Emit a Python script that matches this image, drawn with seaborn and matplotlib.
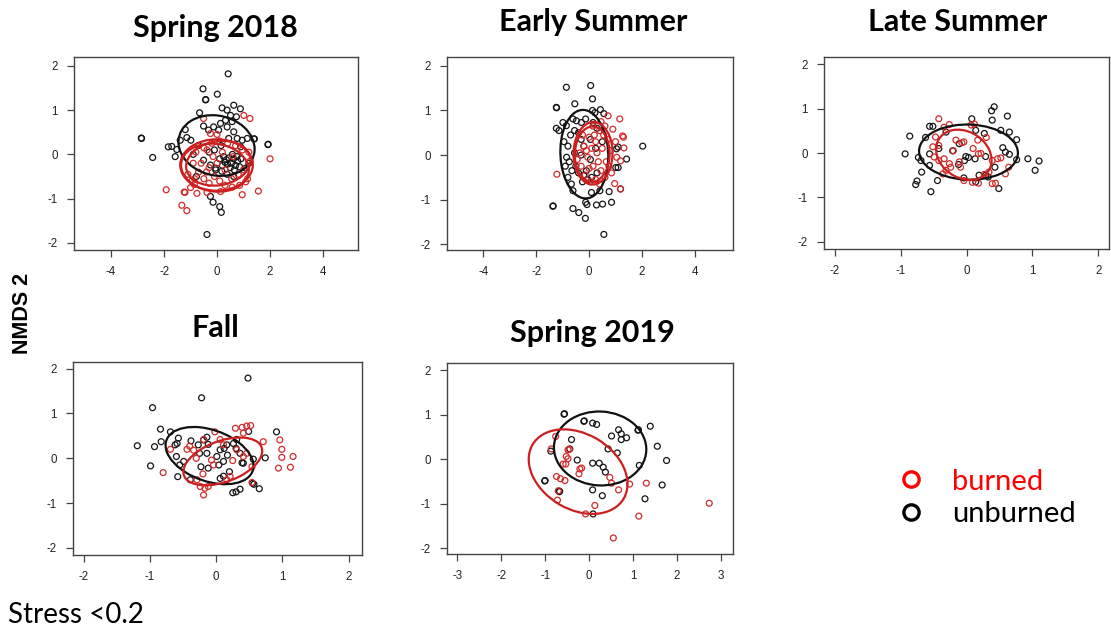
import numpy as np
import pandas as pd
import matplotlib
matplotlib.use("Agg")
import matplotlib.pyplot as plt
from matplotlib.patches import Ellipse
from matplotlib.lines import Line2D
import seaborn as sns

sns.set_theme(style="white")
plt.rcParams["font.family"] = ["Lato", "DejaVu Sans"]

seasons = ["Spring 2018", "Early Summer", "Late Summer", "Fall", "Spring 2019"]
treatments = ["burned", "unburned"]
legend_labels = ["burned", "unburned"]
y_axis_label = "NMDS 2"
stress_note = "Stress <0.2"

# NMDS site scores (NMDS1, NMDS2)
spring18_burned = [
    (-1.92, -0.80), (-1.24, -0.85), (-1.21, -0.86), (-1.33, -1.15), (-1.14, -1.27),
    (-0.76, -0.88), (-0.86, -0.68), (-0.38, -0.86), (0.13, -0.84), (0.57, -0.74),
    (0.95, -0.91), (1.08, -0.62), (1.56, -0.83), (2.00, -0.10), (1.24, 0.81),
    (1.01, 0.88), (-0.51, 0.81), (-0.25, 0.47), (-0.38, 0.10), (-0.90, -0.20),
    (-1.10, -0.45), (-0.95, -0.60), (-0.70, -0.40), (-0.50, -0.55), (-0.30, -0.65),
    (-0.10, -0.50), (0.10, -0.60), (0.30, -0.70), (0.55, -0.55), (0.80, -0.45),
    (1.00, -0.35), (1.25, -0.15), (1.20, 0.05), (0.95, 0.10), (0.70, 0.20),
    (0.40, 0.25), (0.10, 0.30), (-0.20, 0.25), (-0.50, 0.15), (-0.80, 0.05),
    (-0.60, -0.20), (-0.30, -0.30), (0.00, -0.20), (0.30, -0.35), (0.60, -0.05),
    (0.20, 0.05), (-0.15, -0.05), (-0.85, -0.55), (-0.40, -0.40), (0.85, -0.70),
    (1.15, -0.55), (-1.00, -0.75), (0.00, 0.45),
]
spring18_unburned = [
    (0.42, 1.82), (-0.53, 1.48), (-0.43, 1.24), (-0.43, 1.23), (0.01, 1.36),
    (-2.85, 0.36), (-2.86, 0.37), (-2.43, -0.07), (1.92, 0.22), (1.93, 0.23),
    (1.39, 0.35), (1.41, 0.35), (-0.66, 0.94), (0.19, 1.05), (0.38, 1.00),
    (0.63, 1.11), (0.88, 1.03), (0.51, 0.88), (0.73, 0.85), (0.32, 0.77),
    (0.13, 0.70), (-0.38, -1.81), (0.16, -1.31), (0.10, -1.18), (-0.15, -1.08),
    (-0.25, -0.95), (-0.78, -0.50), (-1.84, 0.17), (-1.71, 0.18), (-1.58, -0.05),
    (-1.52, 0.11), (-1.39, 0.32), (-1.20, 0.56), (-1.14, 0.38), (-0.99, 0.32),
    (-0.51, 0.64), (-0.32, 0.55), (-0.13, 0.62), (0.06, 0.55), (0.38, 0.62),
    (0.57, 0.74), (0.63, 0.51), (0.44, 0.36), (0.76, 0.36), (0.95, 0.32),
    (1.14, 0.36), (0.89, 0.17), (0.25, -0.05), (0.35, -0.12), (0.45, -0.08),
    (0.55, -0.20), (0.62, -0.10), (0.70, -0.25), (0.78, -0.15), (0.85, -0.28),
    (0.50, -0.30), (0.40, -0.22), (0.30, -0.18), (0.65, -0.35), (0.75, -0.05),
    (0.90, -0.10), (0.58, 0.00), (0.20, -0.25), (0.10, -0.10), (-0.05, -0.35),
    (0.38, -0.45), (0.63, -0.50), (0.18, -0.38), (-0.06, -0.31), (-0.25, -0.24),
    (-0.51, -0.13), (1.08, -0.31), (1.20, -0.20), (0.15, 0.20), (-0.10, 0.10),
    (-0.30, 0.05), (-0.70, 0.20), (-0.90, 0.00),
]

early_summer_burned = [
    (-1.22, -0.43), (1.16, 0.81), (1.27, 0.43), (1.30, 0.40), (1.32, 0.16),
    (1.19, -0.13), (0.97, -0.64), (1.19, -0.76), (0.72, 0.88), (0.90, 0.58),
    (0.60, 0.65), (0.40, 0.55), (0.20, 0.45), (0.00, 0.40), (-0.20, 0.20),
    (-0.35, 0.05), (-0.30, -0.25), (-0.15, -0.45), (0.05, -0.60), (0.25, -0.55),
    (0.45, -0.35), (0.65, -0.15), (0.80, 0.10), (0.70, 0.35), (0.50, 0.15),
    (0.30, 0.05), (0.10, 0.15), (-0.05, -0.05), (0.15, -0.25), (0.35, -0.15),
    (0.55, 0.45), (0.25, 0.30), (-0.10, 0.10), (0.00, -0.30), (0.40, -0.65),
    (-0.45, -0.10), (0.85, -0.40), (1.00, 0.30), (0.60, -0.50), (-0.25, 0.45),
    (0.15, 0.65), (0.45, 0.75), (1.05, -0.05), (0.75, -0.25),
]
early_summer_unburned = [
    (-0.86, 1.52), (0.06, 1.56), (0.13, 1.26), (-1.24, 1.07), (-1.23, 1.06),
    (-0.54, 1.15), (0.13, 1.00), (0.22, 0.95), (0.43, 1.02), (0.56, 0.93),
    (-1.24, 0.60), (-1.14, 0.55), (-0.99, 0.73), (-0.86, 0.66), (-0.61, 0.81),
    (-0.48, 0.77), (-0.29, 0.73), (-0.13, 0.81), (0.15, 0.73), (2.03, 0.20),
    (1.42, -0.09), (1.04, 0.14), (1.10, 0.18), (-1.37, -1.15), (-1.36, -1.14),
    (-0.61, -1.20), (-0.39, -1.29), (-0.14, -1.42), (0.56, -1.78), (0.28, -1.12),
    (0.51, -1.10), (0.85, -1.06), (-0.13, -1.06), (-0.08, -1.11), (0.09, -0.84),
    (0.41, -0.80), (0.76, -0.82), (1.19, -0.76), (-0.61, -0.80), (-0.67, -0.65),
    (-0.80, -0.50), (1.01, -0.28), (1.10, -0.28), (-0.95, 0.30), (-0.80, 0.20),
    (-0.70, 0.45), (-0.55, 0.55), (-0.40, 0.50), (-0.30, 0.35), (-0.85, -0.05),
    (-0.75, -0.15), (-0.90, -0.25), (-0.65, -0.35), (-0.50, -0.25), (-0.40, -0.40),
    (-0.20, -0.45), (-0.05, -0.55), (0.10, -0.50), (-0.10, -0.35), (-0.30, 0.00),
    (-0.55, 0.05), (-0.20, 0.20), (0.05, 0.35), (-0.25, -0.60), (0.30, -0.40),
    (0.30, 0.60), (0.25, 0.15), (0.50, 0.30), (0.05, -0.10),
]

late_summer_burned = [
    (-0.42, 0.77), (-0.26, 0.64), (-0.34, 0.58), (-0.47, 0.36), (-0.42, 0.17),
    (-0.51, 0.14), (-0.49, -0.09), (-0.42, -0.17), (-0.34, -0.13), (-0.26, -0.24),
    (-0.24, -0.32), (-0.31, -0.39), (-0.36, -0.47), (-0.16, 0.29), (-0.07, 0.23),
    (-0.04, 0.25), (-0.11, -0.20), (-0.09, -0.32), (0.07, 0.63), (0.12, 0.65),
    (0.17, 0.29), (0.18, -0.02), (0.22, -0.01), (-0.04, -0.62), (0.09, -0.66),
    (0.18, -0.68), (0.27, -0.48), (0.34, -0.43), (0.39, -0.17), (0.39, -0.69),
    (0.44, -0.68), (0.47, -0.13), (0.52, -0.11), (0.64, -0.32), (0.59, -0.47),
    (0.10, 0.10), (-0.20, 0.05), (0.30, 0.35),
]
late_summer_unburned = [
    (-0.86, 0.38), (-0.93, -0.02), (-0.73, -0.10), (-0.69, -0.17), (-0.68, -0.43),
    (-0.77, -0.71), (-0.75, -0.63), (-0.54, -0.87), (-0.44, -0.62), (-0.56, 0.60),
    (-0.51, 0.60), (-0.62, 0.35), (-0.56, -0.02), (-0.56, -0.28), (-0.42, 0.10),
    (-0.31, 0.47), (-0.21, 0.05), (-0.11, 0.21), (-0.01, -0.08), (-0.03, -0.17),
    (0.03, -0.10), (0.08, 0.77), (0.14, 0.51), (0.13, -0.13), (0.27, 0.44),
    (0.29, -0.08), (0.19, -0.50), (0.29, -0.50), (0.33, -0.54), (0.38, 0.95),
    (0.42, 1.04), (0.39, 0.74), (0.52, 0.51), (0.62, 0.83), (0.65, 0.47),
    (0.55, 0.12), (0.59, 0.02), (0.65, -0.03), (0.76, 0.30), (0.76, -0.15),
    (0.93, -0.13), (1.10, -0.18), (1.04, -0.39), (0.49, -0.80), (-0.04, -0.56),
    (0.14, -0.65), (0.43, -0.32), (-0.12, -0.26),
]

fall_burned = [
    (-0.80, -0.32), (-0.69, 0.20), (-0.44, 0.20), (-0.40, 0.27), (-0.34, 0.18),
    (-0.29, -0.48), (-0.24, -0.63), (-0.19, -0.82), (-0.17, -0.67), (-0.12, -0.63),
    (-0.02, 0.59), (-0.19, 0.42), (0.06, 0.42), (0.11, 0.30), (-0.07, -0.04),
    (-0.04, -0.15), (0.29, 0.67), (0.39, 0.69), (0.46, 0.72), (0.52, 0.73),
    (0.41, 0.56), (0.31, 0.19), (0.41, 0.04), (0.46, 0.11), (0.54, -0.19),
    (0.16, -0.48), (0.21, -0.41), (0.71, 0.37), (0.96, 0.41), (0.99, 0.20),
    (0.99, 0.02), (0.94, -0.22), (1.16, 0.04), (1.12, -0.20), (0.54, -0.54),
    (-0.30, 0.00), (0.25, -0.05), (-0.20, -0.35),
]
fall_unburned = [
    (0.48, 1.79), (-0.22, 1.35), (-0.96, 1.13), (-1.19, 0.28), (-0.99, -0.17),
    (-0.93, 0.26), (-0.84, 0.65), (-0.83, 0.37), (-0.69, 0.59), (-0.59, 0.33),
    (-0.57, 0.45), (-0.62, 0.30), (-0.60, 0.04), (-0.58, -0.41), (-0.55, -0.15),
    (-0.49, -0.07), (-0.38, 0.39), (-0.27, 0.30), (-0.19, 0.41), (-0.14, 0.47),
    (-0.12, 0.31), (-0.25, 0.11), (-0.23, -0.19), (-0.14, 0.11), (-0.12, -0.22),
    (0.01, 0.04), (0.04, -0.15), (0.11, -0.07), (0.06, 0.19), (0.12, 0.22),
    (0.16, 0.30), (0.17, 0.07), (0.26, 0.33), (0.31, 0.42), (0.30, 0.22),
    (0.36, 0.11), (0.39, -0.10), (0.41, -0.11), (0.49, 0.60), (0.56, -0.02),
    (0.74, 0.01), (0.91, 0.59), (0.25, -0.77), (0.30, -0.75), (0.36, -0.69),
    (0.55, -0.56), (0.57, -0.58), (0.65, -0.68), (0.06, -0.45), (0.11, -0.40),
    (-0.39, -0.48), (0.20, -0.30),
]

spring19_burned = [
    (-0.76, 0.51), (-0.86, 0.23), (-0.48, 0.21), (-0.45, 0.22), (-0.52, 0.06),
    (-0.48, 0.01), (-0.59, -0.11), (-0.53, -0.11), (-0.55, -0.48), (-0.65, -0.44),
    (-0.74, -0.39), (-0.72, -0.92), (-0.70, -0.71), (-0.21, -0.22), (-0.17, -0.20),
    (-0.23, -0.33), (0.47, -0.41), (0.51, -0.54), (0.67, -0.69), (0.92, -0.56),
    (1.30, -0.54), (1.13, -1.28), (0.55, -1.77), (-0.08, -1.23), (0.13, -1.04),
    (2.73, -0.99),
]
spring19_unburned = [
    (-0.57, 1.01), (-0.56, 1.02), (-0.11, 0.86), (-0.12, 0.85), (0.08, 0.81),
    (0.17, 0.78), (0.51, 0.52), (0.67, 0.66), (0.73, 0.57), (0.73, 0.44),
    (0.85, 0.48), (1.11, 0.65), (1.12, 0.66), (1.39, 0.74), (1.55, 0.29),
    (1.76, -0.03), (1.66, -0.58), (1.27, -0.89), (1.14, -0.14), (0.64, 0.14),
    (0.43, 0.23), (0.08, -0.09), (0.23, -0.09), (0.32, -0.18), (0.37, -0.29),
    (-0.27, -0.02), (-0.40, 0.44), (-0.44, 0.23), (-0.87, 0.18), (-1.00, -0.48),
    (-1.01, -0.49), (-0.67, -0.72), (-0.68, -0.73), (0.08, -0.69), (0.30, -0.82),
    (0.09, -1.23),
]

# ordination ellipses: (centre x, centre y, semi-axis a, semi-axis b, angle deg)
spring18_ellipses_burned = [(-0.02, -0.24, 1.37, 0.58, 0), (0.05, -0.20, 1.22, 0.50, 4),
                            (-0.08, -0.30, 1.28, 0.54, -3)]
spring18_ellipses_unburned = [(-0.02, 0.20, 1.44, 0.68, -4)]
early_summer_ellipses_burned = [(0.15, 0.04, 0.70, 0.74, 100), (0.12, 0.02, 0.62, 0.66, 100)]
early_summer_ellipses_unburned = [(-0.18, 0.02, 1.00, 0.90, 106)]
late_summer_ellipses_burned = [(-0.04, -0.04, 0.58, 0.40, 108)]
late_summer_ellipses_unburned = [(0.03, 0.02, 0.75, 0.62, -5)]
fall_ellipses_burned = [(0.10, -0.07, 0.68, 0.42, 38)]
fall_ellipses_unburned = [(-0.10, 0.06, 0.76, 0.52, -42)]
spring19_ellipses_burned = [(-0.25, -0.28, 1.20, 0.85, -30)]
spring19_ellipses_unburned = [(0.25, 0.24, 1.05, 0.83, -3)]

# axis ranges and tick values per season
x_limits = [(-5.4, 5.32), (-5.38, 5.45), (-2.16, 2.16), (-2.16, 2.2), (-3.23, 3.27)]
y_limits = [(-2.16, 2.2), (-2.13, 2.2), (-2.16, 2.16), (-2.16, 2.15), (-2.13, 2.16)]
x_ticks = [[-4, -2, 0, 2, 4], [-4, -2, 0, 2, 4], [-2, -1, 0, 1, 2],
           [-2, -1, 0, 1, 2], [-3, -2, -1, 0, 1, 2, 3]]
y_ticks = [-2, -1, 0, 1, 2]

burned_points = [spring18_burned, early_summer_burned, late_summer_burned,
                 fall_burned, spring19_burned]
unburned_points = [spring18_unburned, early_summer_unburned, late_summer_unburned,
                   fall_unburned, spring19_unburned]
burned_ellipses = [spring18_ellipses_burned, early_summer_ellipses_burned,
                   late_summer_ellipses_burned, fall_ellipses_burned,
                   spring19_ellipses_burned]
unburned_ellipses = [spring18_ellipses_unburned, early_summer_ellipses_unburned,
                     late_summer_ellipses_unburned, fall_ellipses_unburned,
                     spring19_ellipses_unburned]

W, H = 1111, 633
# panel boxes in pixels: left, top, right, bottom
boxes = [(74, 57, 358, 250), (447, 57, 733, 250), (824, 57, 1109, 249),
         (73, 362, 362, 555), (447, 363, 733, 554)]
title_pos = [(215, 28), (593, 22), (958, 22), (215, 328), (592, 333)]

point_colors = {"burned": "#d42a2a", "unburned": "#151515"}
ellipse_colors = {"burned": "#cc1f1f", "unburned": "#111111"}
tick_font = ["Liberation Sans", "DejaVu Sans"]

fig = plt.figure(figsize=(W / 100, H / 100), dpi=100)
fig.patch.set_facecolor("white")

for i, season in enumerate(seasons):
    l, t, r, b = boxes[i]
    ax = fig.add_axes([l / W, 1 - b / H, (r - l) / W, (b - t) / H])
    for trt, pts in (("unburned", unburned_points[i]), ("burned", burned_points[i])):
        df = pd.DataFrame(pts, columns=["NMDS1", "NMDS2"])
        df["treatment"] = trt
        sns.scatterplot(data=df, x="NMDS1", y="NMDS2", ax=ax, marker="o", s=18,
                        facecolors="none", edgecolor=point_colors[trt],
                        linewidth=0.9, legend=False, zorder=3)
    for trt, ells in (("unburned", unburned_ellipses[i]), ("burned", burned_ellipses[i])):
        for cx, cy, a, bb, ang in ells:
            ax.add_patch(Ellipse((cx, cy), 2 * a, 2 * bb, angle=ang, fill=False,
                                 edgecolor=ellipse_colors[trt], linewidth=1.6, zorder=4))
    ax.set_xlim(*x_limits[i])
    ax.set_ylim(*y_limits[i])
    ax.set_xticks(x_ticks[i])
    ax.set_yticks(y_ticks)
    ax.set_xticklabels([str(v) for v in x_ticks[i]], family=tick_font)
    ax.set_yticklabels([str(v) for v in y_ticks], family=tick_font)
    ax.set_xlabel("")
    ax.set_ylabel("")
    for sp in ax.spines.values():
        sp.set_visible(True)
        sp.set_color("#444444")
        sp.set_linewidth(1.0)
    ax.tick_params(axis="both", which="major", direction="out", length=5,
                   width=0.9, color="#444444", labelsize=8.3, labelcolor="#222222",
                   pad=6.5, bottom=True, left=True, top=False, right=False)
    ax.set_facecolor("white")
    tx, ty = title_pos[i]
    fig.text(tx / W, 1 - ty / H, season, ha="center", va="center",
             fontsize=22, fontweight="bold", color="black")

fig.text(22 / W, 1 - 313 / H, y_axis_label, rotation=90, ha="center", va="center",
         fontsize=15.5, fontweight="bold", color="black", family=tick_font)
fig.text(8 / W, 1 - 615 / H, stress_note, ha="left", va="center",
         fontsize=20, color="black")

handles = [Line2D([], [], ls="", marker="o", markersize=11, markerfacecolor="none",
                  markeredgecolor="#ff0000", markeredgewidth=2.4),
           Line2D([], [], ls="", marker="o", markersize=11, markerfacecolor="none",
                  markeredgecolor="black", markeredgewidth=2.4)]
leg = fig.legend(handles, legend_labels, loc="center left",
                 bbox_to_anchor=(893 / W, 1 - 498 / H), frameon=False, fontsize=21,
                 borderpad=0, borderaxespad=0, handletextpad=0.82,
                 labelspacing=0.24, handlelength=1.2)
leg.get_texts()[0].set_color("#ff0000")
leg.get_texts()[1].set_color("black")

fig.savefig("out.png", dpi=100, facecolor="white")
